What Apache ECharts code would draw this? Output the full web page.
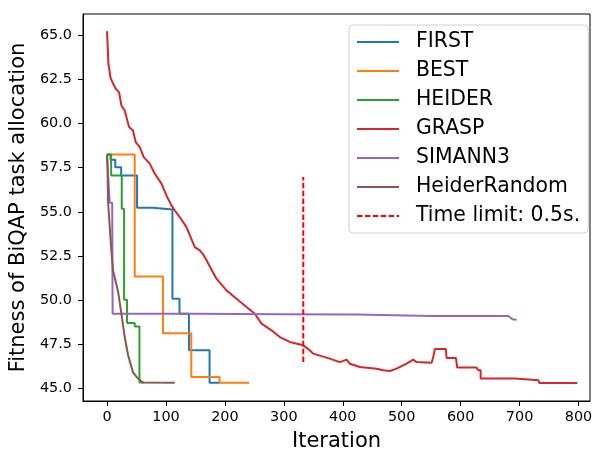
<!DOCTYPE html>
<html>
<head>
<meta charset="utf-8">
<script src="https://cdn.jsdelivr.net/npm/echarts@6/dist/echarts.min.js"></script>
<style>
html,body{margin:0;padding:0;background:#fff;}
#c{width:592px;height:450px;}
</style>
</head>
<body>
<div id="c"></div>
<script>
// ---- data (iteration, fitness) ----
const seriesNames = ['FIRST','BEST','HEIDER','GRASP','SIMANN3','HeiderRandom','Time limit: 0.5s.'];
const xTicks = [0,100,200,300,400,500,600,700,800];
const yTicks = [45,47.5,50,52.5,55,57.5,60,62.5,65];

const firstData = [[0,58.25],[6,57.95],[14,57.53],[24,57.06],[51,55.24],[78,55.14],[111,50.09],[123,49.24],[139,47.17],[174,45.33],[191,45.33]];
const bestData = [[0,58.25],[47,51.35],[95,48.14],[143,45.66],[191,45.33],[241,45.33]];
const heiderData = [[0,58.25],[7,57.06],[25,55.18],[29,50.03],[34,48.71],[47,48.52],[55,45.34],[62,45.34]];
const graspData = [[0,65.23],[1.5,65.23],[2.4,63.38],[5.8,62.62],[9.2,62.34],[14.8,61.97],[20.4,61.78],[24.4,61.02],[30,60.74],[37.4,59.80],[44.1,59.61],[48.7,58.95],[55.5,58.67],[62.3,58.10],[72.5,57.73],[81,57.16],[92.4,56.60],[100.8,55.93],[109.3,55.37],[115,55.08],[123.4,54.71],[134.8,54.14],[148.9,53.01],[157.4,52.82],[163,52.6],[168.8,52.26],[185.7,51.22],[202.7,50.56],[219.7,50.09],[236.7,49.62],[250.8,49.24],[262.1,48.68],[279.1,48.30],[293.2,47.92],[310.2,47.64],[332.8,47.45],[344.1,47.17],[349.7,46.98],[378,46.70],[395,46.50],[406.5,46.64],[412,46.41],[429,46.22],[457.4,46.13],[468.6,46.04],[480,46.0],[491.3,46.13],[508.3,46.41],[519.5,46.64],[525.3,46.50],[550.8,46.47],[553.5,46.79],[556.4,47.24],[575,47.24],[576.2,46.73],[592,46.73],[594.2,46.19],[627,46.19],[630,46.04],[634,46.04],[634,45.57],[692,45.57],[694,45.47],[732,45.47],[733.4,45.32],[798,45.32]];
const simannData = [[0,58.25],[4.5,55.52],[8.8,55.52],[9.5,49.24],[150,49.24],[293,49.21],[423,49.19],[550,49.11],[681,49.11],[688,48.93],[695,48.9]];
const heiderRandomData = [[0,58.25],[1,57.3],[1.7,55.6],[7.5,52.75],[10.2,51.7],[13,51.3],[18.7,50.5],[24.4,49.24],[30,47.92],[35.7,46.9],[44.1,45.92],[52.6,45.57],[61,45.34],[115,45.33]];
const timeLimitData = [[333,46.5],[333,56.97]];

const colors = ['#1f77b4','#ff7f0e','#2ca02c','#d62728','#9467bd','#8c564b','#ff0000'];
const FONT = 'DejaVu Sans';

function lineSeries(name, data, color, step){
  return {
    name: name, type:'line', data: data, step: step || false,
    symbol:'none', showSymbol:false, animation:false,
    lineStyle:{color:color, width:2}, itemStyle:{color:color}
  };
}

const series = [
  lineSeries(seriesNames[0], firstData, colors[0], 'end'),
  lineSeries(seriesNames[1], bestData, colors[1], 'end'),
  lineSeries(seriesNames[2], heiderData, colors[2], 'end'),
  lineSeries(seriesNames[3], graspData, colors[3]),
  lineSeries(seriesNames[4], simannData, colors[4]),
  lineSeries(seriesNames[5], heiderRandomData, colors[5]),
  {
    name: seriesNames[6], type:'line', data: timeLimitData, symbol:'none', showSymbol:false, animation:false,
    lineStyle:{color:colors[6], width:2, type:[5.5,2.4]}, itemStyle:{color:colors[6]}
  }
];

const chart = echarts.init(document.getElementById('c'), null, {renderer:'canvas'});
chart.setOption({
  backgroundColor:'#fff',
  animation:false,
  grid:{left:83, right:2, top:14, bottom:49, containLabel:false, outerBoundsMode:'none',
    show:true, borderColor:'#000', borderWidth:1, backgroundColor:'transparent'},
  xAxis:{
    type:'value', min:-40.75, max:819.5,
    name:'Iteration', nameLocation:'middle', nameGap:30,
    nameTextStyle:{fontSize:21, fontFamily:FONT, color:'#000'},
    axisLine:{show:true, onZero:false, lineStyle:{color:'#000', width:1}},
    axisTick:{show:true, length:5, lineStyle:{color:'#000'}, customValues:xTicks},
    axisLabel:{fontSize:14.4, fontFamily:FONT, color:'#000', margin:9, customValues:xTicks},
    splitLine:{show:false}
  },
  yAxis:{
    type:'value', min:44.3, max:66.2,
    name:'Fitness of BiQAP task allocation', nameLocation:'middle', nameGap:51,
    nameTextStyle:{fontSize:21, fontFamily:FONT, color:'#000'},
    axisLine:{show:true, onZero:false, lineStyle:{color:'#000', width:1}},
    axisTick:{show:true, length:5, lineStyle:{color:'#000'}, customValues:yTicks},
    axisLabel:{fontSize:14.4, fontFamily:FONT, color:'#000', margin:11, customValues:yTicks,
      formatter:function(v){return v.toFixed(1);}},
    splitLine:{show:false}
  },
  legend:{
    data: seriesNames, orient:'vertical', left:349, top:25,
    padding:[7,8,7,7], itemWidth:42, itemHeight:20, itemGap:9,
    itemStyle:{opacity:0},
    textStyle:{fontSize:20.4, fontFamily:FONT, color:'#000', padding:[0,0,0,12]},
    borderColor:'#d0d0d0', borderWidth:1, borderRadius:4, backgroundColor:'rgba(255,255,255,0.8)',
    selectedMode:false
  },
  series: series
});
</script>
</body>
</html>
